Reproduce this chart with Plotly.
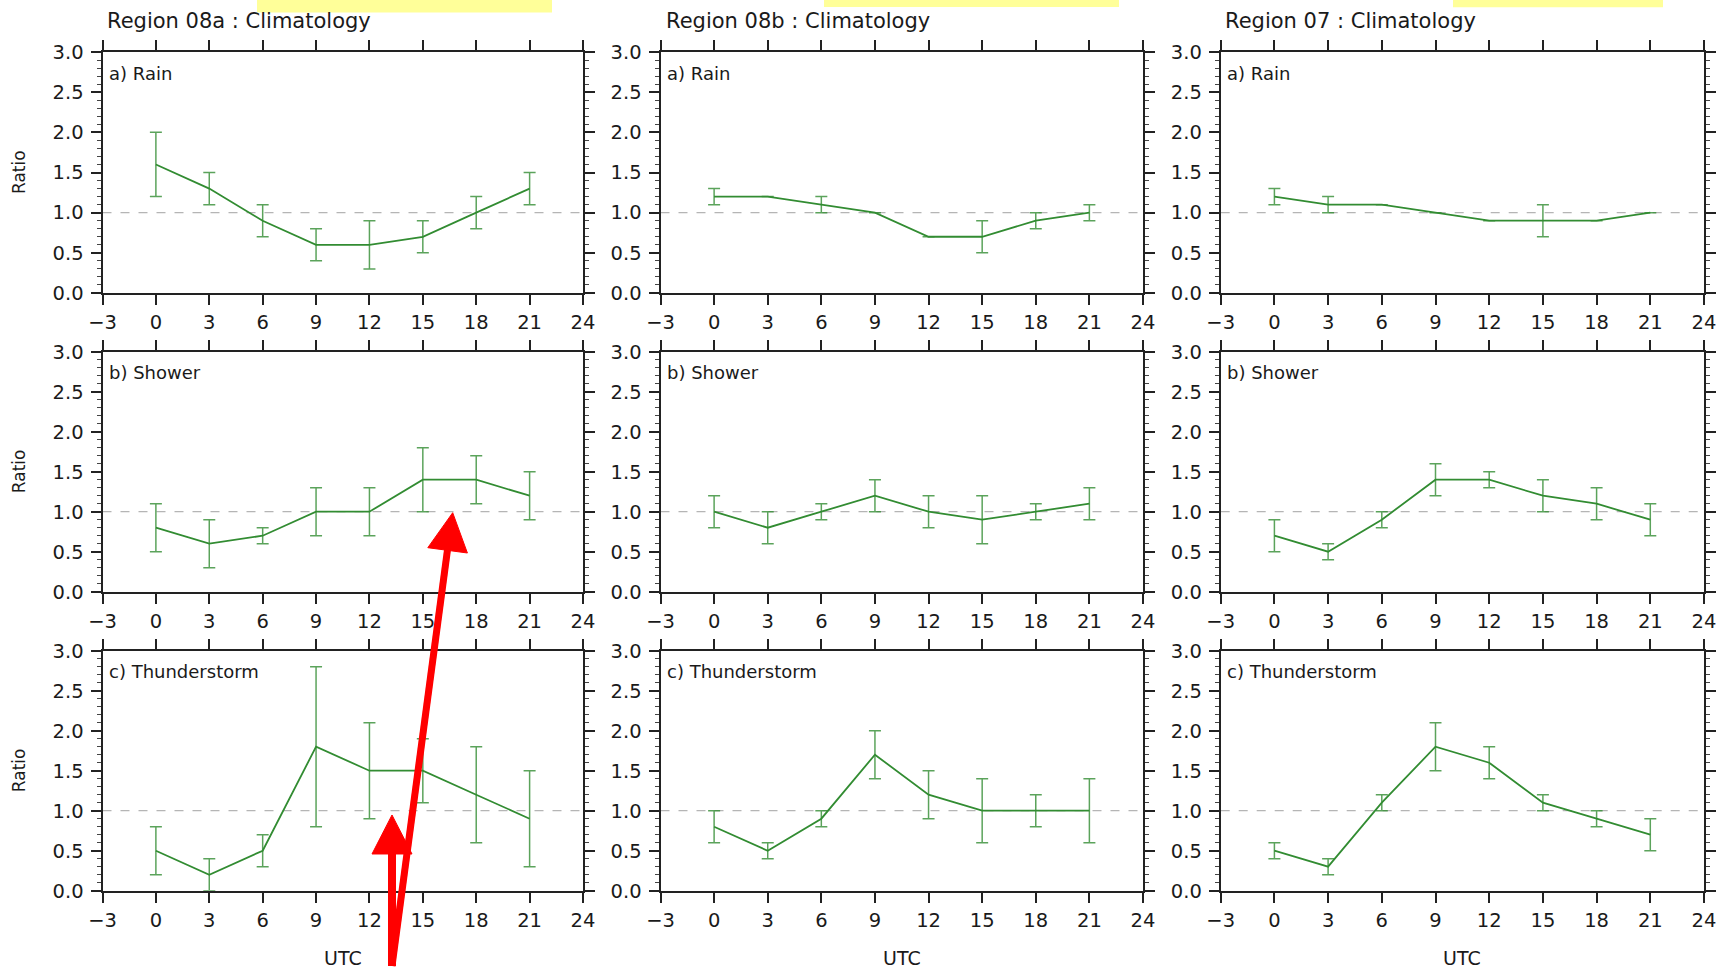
import plotly.graph_objects as go

W, H = 1719, 969

# ---------------- data ----------------
hours = [0, 3, 6, 9, 12, 15, 18, 21]
x_ticks = [-3, 0, 3, 6, 9, 12, 15, 18, 21, 24]
y_ticks = [0.0, 0.5, 1.0, 1.5, 2.0, 2.5, 3.0]
region_titles = ["Region 08a : Climatology", "Region 08b : Climatology", "Region 07 : Climatology"]
panel_labels = ["a) Rain", "b) Shower", "c) Thunderstorm"]

# Region 08a
r08a_rain = [1.6, 1.3, 0.9, 0.6, 0.6, 0.7, 1.0, 1.3]
r08a_rain_lo = [1.2, 1.1, 0.7, 0.4, 0.3, 0.5, 0.8, 1.1]
r08a_rain_hi = [2.0, 1.5, 1.1, 0.8, 0.9, 0.9, 1.2, 1.5]
r08a_shower = [0.8, 0.6, 0.7, 1.0, 1.0, 1.4, 1.4, 1.2]
r08a_shower_lo = [0.5, 0.3, 0.6, 0.7, 0.7, 1.0, 1.1, 0.9]
r08a_shower_hi = [1.1, 0.9, 0.8, 1.3, 1.3, 1.8, 1.7, 1.5]
r08a_thunder = [0.5, 0.2, 0.5, 1.8, 1.5, 1.5, 1.2, 0.9]
r08a_thunder_lo = [0.2, 0.0, 0.3, 0.8, 0.9, 1.1, 0.6, 0.3]
r08a_thunder_hi = [0.8, 0.4, 0.7, 2.8, 2.1, 1.9, 1.8, 1.5]

# Region 08b
r08b_rain = [1.2, 1.2, 1.1, 1.0, 0.7, 0.7, 0.9, 1.0]
r08b_rain_lo = [1.1, 1.2, 1.0, 1.0, 0.7, 0.5, 0.8, 0.9]
r08b_rain_hi = [1.3, 1.2, 1.2, 1.0, 0.7, 0.9, 1.0, 1.1]
r08b_shower = [1.0, 0.8, 1.0, 1.2, 1.0, 0.9, 1.0, 1.1]
r08b_shower_lo = [0.8, 0.6, 0.9, 1.0, 0.8, 0.6, 0.9, 0.9]
r08b_shower_hi = [1.2, 1.0, 1.1, 1.4, 1.2, 1.2, 1.1, 1.3]
r08b_thunder = [0.8, 0.5, 0.9, 1.7, 1.2, 1.0, 1.0, 1.0]
r08b_thunder_lo = [0.6, 0.4, 0.8, 1.4, 0.9, 0.6, 0.8, 0.6]
r08b_thunder_hi = [1.0, 0.6, 1.0, 2.0, 1.5, 1.4, 1.2, 1.4]

# Region 07
r07_rain = [1.2, 1.1, 1.1, 1.0, 0.9, 0.9, 0.9, 1.0]
r07_rain_lo = [1.1, 1.0, 1.1, 1.0, 0.9, 0.7, 0.9, 1.0]
r07_rain_hi = [1.3, 1.2, 1.1, 1.0, 0.9, 1.1, 0.9, 1.0]
r07_shower = [0.7, 0.5, 0.9, 1.4, 1.4, 1.2, 1.1, 0.9]
r07_shower_lo = [0.5, 0.4, 0.8, 1.2, 1.3, 1.0, 0.9, 0.7]
r07_shower_hi = [0.9, 0.6, 1.0, 1.6, 1.5, 1.4, 1.3, 1.1]
r07_thunder = [0.5, 0.3, 1.1, 1.8, 1.6, 1.1, 0.9, 0.7]
r07_thunder_lo = [0.4, 0.2, 1.0, 1.5, 1.4, 1.0, 0.8, 0.5]
r07_thunder_hi = [0.6, 0.4, 1.2, 2.1, 1.8, 1.2, 1.0, 0.9]

reference_value = 1.0

# panels[row][col] = (mean, lo, hi)
panels = [
    [(r08a_rain, r08a_rain_lo, r08a_rain_hi), (r08b_rain, r08b_rain_lo, r08b_rain_hi), (r07_rain, r07_rain_lo, r07_rain_hi)],
    [(r08a_shower, r08a_shower_lo, r08a_shower_hi), (r08b_shower, r08b_shower_lo, r08b_shower_hi), (r07_shower, r07_shower_lo, r07_shower_hi)],
    [(r08a_thunder, r08a_thunder_lo, r08a_thunder_hi), (r08b_thunder, r08b_thunder_lo, r08b_thunder_hi), (r07_thunder, r07_thunder_lo, r07_thunder_hi)],
]

# ---------------- layout geometry (pixels) ----------------
col_px = [(102.5, 583.0), (660.5, 1143.0), (1220.7, 1704.0)]
row_px = [(52.0, 293.0), (351.7, 591.7), (650.7, 890.7)]
title_left_px = [104.5, 663.5, 1223.0]


def px_x(x):
    return x / W


def px_y(y):
    return 1 - y / H


FONT = "DejaVu Sans, Liberation Sans, Arial, sans-serif"
TXT = "#1a1a1a"
LINE_GREEN = "rgb(50,140,50)"
ERR_GREEN = "rgba(50,140,50,0.8)"
FRAME = "#222222"

fig = go.Figure()
annotations = []
shapes = []

for r in range(3):
    for c in range(3):
        k = r * 3 + c + 1
        xs = "" if k == 1 else str(k)
        mean, lo, hi = panels[r][c]
        plus = [h - m for h, m in zip(hi, mean)]
        minus = [m - l for m, l in zip(mean, lo)]
        fig.add_trace(go.Scatter(
            x=hours, y=mean, mode="lines",
            line=dict(color=LINE_GREEN, width=1.8),
            error_y=dict(type="data", symmetric=False, array=plus, arrayminus=minus,
                         color=ERR_GREEN, thickness=1.5, width=6),
            xaxis="x" + xs, yaxis="y" + xs, showlegend=False, hoverinfo="x+y",
        ))
        x0, x1 = col_px[c]
        y0, y1 = row_px[r]
        axis_common = dict(
            ticks="outside", ticklen=10, tickwidth=1.5, tickcolor=FRAME,
            showline=True, linewidth=2, linecolor=FRAME, mirror="ticks",
            showgrid=False, zeroline=False, automargin=False,
            tickfont=dict(family=FONT, size=19.5, color=TXT),
        )
        fig.layout["xaxis" + xs] = dict(
            domain=[px_x(x0), px_x(x1)], anchor="y" + xs,
            range=[-3, 24], tickvals=x_ticks, ticklabelstandoff=1,
            **axis_common,
        )
        fig.layout["yaxis" + xs] = dict(
            domain=[px_y(y1), px_y(y0)], anchor="x" + xs,
            range=[0, 3], tickvals=y_ticks, tickformat=".1f", ticklabelstandoff=3,
            minor=dict(dtick=0.1, ticks="outside", ticklen=4, tickwidth=1, tickcolor="#444"),
            **axis_common,
        )
        # dashed reference line at ratio 1
        shapes.append(dict(
            type="line", xref=f"x{xs} domain", yref="y" + xs,
            x0=0, x1=1, y0=reference_value, y1=reference_value,
            line=dict(color="#b5b5b5", width=1.3, dash="dash"), layer="below",
        ))
        # panel label
        annotations.append(dict(
            text=panel_labels[r], xref=f"x{xs} domain", yref=f"y{xs} domain",
            x=0, y=1, xanchor="left", yanchor="middle", xshift=4, yshift=-21,
            showarrow=False, font=dict(family=FONT, size=18, color=TXT),
        ))

# column titles
for c in range(3):
    annotations.append(dict(
        text=region_titles[c], xref="paper", yref="paper",
        x=px_x(title_left_px[c]), y=px_y(21.5), xanchor="left", yanchor="middle",
        showarrow=False, font=dict(family=FONT, size=21, color=TXT),
    ))
    annotations.append(dict(
        text="UTC", xref="paper", yref="paper",
        x=px_x((col_px[c][0] + col_px[c][1]) / 2), y=px_y(958), xanchor="center", yanchor="middle",
        showarrow=False, font=dict(family=FONT, size=19, color=TXT),
    ))

# y-axis titles (left column)
for r in range(3):
    annotations.append(dict(
        text="Ratio", xref="paper", yref="paper", textangle=-90,
        x=px_x(18.5), y=px_y((row_px[r][0] + row_px[r][1]) / 2), xanchor="center", yanchor="middle",
        showarrow=False, font=dict(family=FONT, size=17, color=TXT),
    ))

# yellow highlight boxes at top
for (a, b, hgt) in [(257, 552, 12.5), (824, 1119, 7), (1453, 1663, 7.3)]:
    shapes.append(dict(type="rect", xref="paper", yref="paper",
                       x0=px_x(a), x1=px_x(b), y0=px_y(hgt), y1=px_y(0),
                       fillcolor="#ffff99", line=dict(width=0), layer="above"))


def path_px(points):
    s = "M " + " L ".join(f"{px_x(x):.5f},{px_y(y):.5f}" for x, y in points) + " Z"
    return s


RED = "#ff0000"
# arrow 1 (slanted)
shapes.append(dict(type="line", xref="paper", yref="paper",
                   x0=px_x(392), y0=px_y(966), x1=px_x(447.6), y1=px_y(549),
                   line=dict(color=RED, width=7), layer="above"))
shapes.append(dict(type="path", xref="paper", yref="paper",
                   path=path_px([(452.7, 512.7), (467.4, 553.0), (427.8, 547.7)]),
                   fillcolor=RED, line=dict(color=RED, width=1), layer="above"))
# arrow 2 (vertical)
shapes.append(dict(type="line", xref="paper", yref="paper",
                   x0=px_x(392), y0=px_y(966), x1=px_x(392), y1=px_y(852),
                   line=dict(color=RED, width=8), layer="above"))
shapes.append(dict(type="path", xref="paper", yref="paper",
                   path=path_px([(392, 815), (412, 854), (372, 854)]),
                   fillcolor=RED, line=dict(color=RED, width=1), layer="above"))

fig.update_layout(
    template="none",
    width=W, height=H,
    margin=dict(l=0, r=0, t=0, b=0, pad=0, autoexpand=False),
    paper_bgcolor="white", plot_bgcolor="white",
    annotations=annotations, shapes=shapes,
    font=dict(family=FONT, color=TXT),
)

fig.write_html("out.html", config={"displayModeBar": False},
               post_script="document.body.style.margin='0';document.body.style.overflow='hidden';")
